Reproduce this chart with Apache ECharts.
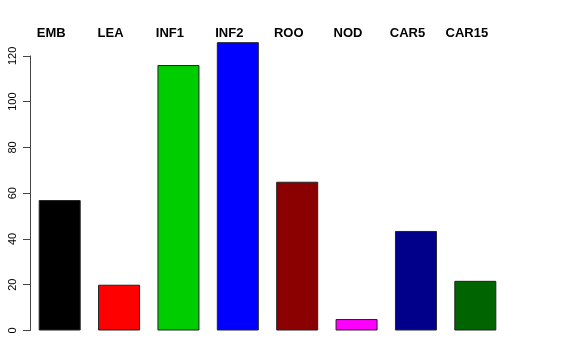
<!DOCTYPE html>
<html>
<head>
<meta charset="utf-8">
<script src="https://cdn.jsdelivr.net/npm/echarts@6/dist/echarts.min.js"></script>
<style>html,body{margin:0;padding:0;background:#fff}#c{width:576px;height:360px}</style>
</head>
<body>
<div id="c"></div>
<script>
const categories = ['EMB', 'LEA', 'INF1', 'INF2', 'ROO', 'NOD', 'CAR5', 'CAR15'];
const values = [57, 20, 116, 126, 65, 5, 43.5, 21.7];
const barColors = ['#000000', '#FF0000', '#00CD00', '#0000FF', '#8B0000', '#FF00FF', '#00008B', '#006400'];
const yTicks = [0, 20, 40, 60, 80, 100, 120];

const pxPerUnit = (330.3 - 55.7) / 120;
const bottomPx = 29.5;
const barMax = 128;
const tickMax = yTicks[yTicks.length - 1];
const chart = echarts.init(document.getElementById('c'), null, {renderer: 'canvas'});
chart.setOption({
  animation: false,
  backgroundColor: '#ffffff',
  grid: [
    {left: 30, width: 475, bottom: bottomPx, top: 360 - bottomPx - barMax * pxPerUnit},
    {left: 30, width: 475, bottom: bottomPx, top: 360 - bottomPx - tickMax * pxPerUnit}
  ],
  xAxis: [
    {
      gridIndex: 0, type: 'category', data: categories, position: 'top',
      axisLine: {show: false}, axisTick: {show: false},
      axisLabel: {
        margin: -2, color: '#000', fontFamily: 'Liberation Sans', fontWeight: 'bold', fontSize: 13,
        padding: [0, 17, 0, 0], interval: 0
      }
    },
    {gridIndex: 1, type: 'value', min: 0, max: 1, show: false}
  ],
  yAxis: [
    {gridIndex: 0, type: 'value', min: 0, max: barMax, show: false},
    {
      gridIndex: 1, type: 'value', min: yTicks[0], max: tickMax, interval: yTicks[1] - yTicks[0],
      splitLine: {show: false},
      axisLine: {show: true, lineStyle: {color: '#444', width: 1}},
      axisTick: {show: true, length: 7, lineStyle: {color: '#444'}},
      axisLabel: {rotate: 90, margin: 12, color: '#000', fontFamily: 'Liberation Sans', fontSize: 11}
    }
  ],
  series: [{
    type: 'bar', xAxisIndex: 0, yAxisIndex: 0,
    barWidth: 42,
    data: values.map((v, i) => ({value: v, itemStyle: {color: barColors[i]}})),
    itemStyle: {borderColor: '#222', borderWidth: 1}
  }]
});
</script>
</body>
</html>
